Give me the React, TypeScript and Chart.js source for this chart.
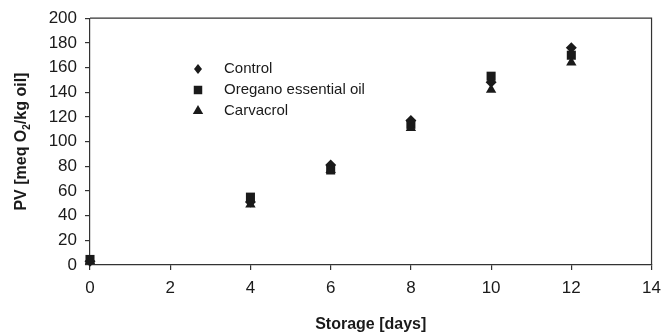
import React, { useEffect, useRef } from "react";
import { Chart, registerables } from "chart.js";

Chart.register(...registerables);

const days = [0, 4, 6, 8, 10, 12];
const control = [3, 51, 81, 117, 148, 176];
const oregano = [4.5, 55, 77, 114, 153, 170];
const carvacrol = [3, 49, 77, 111, 142, 164];
const seriesNames = ["Control", "Oregano essential oil", "Carvacrol"];
const xTicks = [0, 2, 4, 6, 8, 10, 12, 14];
const yTicks = [0, 20, 40, 60, 80, 100, 120, 140, 160, 180, 200];

const FONT = "'Liberation Sans', Arial, sans-serif";
const INK = "#1a1a1a";
const AXIS = "#333333";

function drawMarker(ctx: CanvasRenderingContext2D, style: string, r: number, x: number, y: number) {
  ctx.beginPath();
  if (style === "rect") {
    const s = r * Math.SQRT1_2;
    ctx.rect(x - s, y - s, 2 * s, 2 * s);
  } else if (style === "rectRot") {
    ctx.moveTo(x, y - r);
    ctx.lineTo(x + r * 0.8, y);
    ctx.lineTo(x, y + r);
    ctx.lineTo(x - r * 0.8, y);
    ctx.closePath();
  } else {
    ctx.moveTo(x, y - r);
    ctx.lineTo(x + r * 0.866, y + r * 0.5);
    ctx.lineTo(x - r * 0.866, y + r * 0.5);
    ctx.closePath();
  }
  ctx.fill();
}

const framePlugin = {
  id: "frame",
  afterDraw(chart: any) {
    const { ctx, chartArea } = chart;
    ctx.save();
    ctx.strokeStyle = AXIS;
    ctx.lineWidth = 1.2;
    ctx.beginPath();
    ctx.moveTo(chartArea.left, chartArea.top);
    ctx.lineTo(chartArea.right, chartArea.top);
    ctx.lineTo(chartArea.right, chartArea.bottom);
    ctx.stroke();

    // y-axis title with subscript
    const cx = 22;
    const cy = (chartArea.top + chartArea.bottom) / 2;
    ctx.translate(cx, cy);
    ctx.rotate(-Math.PI / 2);
    ctx.fillStyle = INK;
    ctx.textBaseline = "middle";
    const big = `bold 16px ${FONT}`;
    const small = `bold 10px ${FONT}`;
    const p1 = "PV [meq O";
    const p2 = "2";
    const p3 = "/kg oil]";
    ctx.font = big;
    const w1 = ctx.measureText(p1).width;
    const w3 = ctx.measureText(p3).width;
    ctx.font = small;
    const w2 = ctx.measureText(p2).width;
    const total = w1 + w2 + w3;
    let x = -total / 2;
    ctx.textAlign = "left";
    ctx.font = big;
    ctx.fillText(p1, x, 0);
    x += w1;
    ctx.font = small;
    ctx.fillText(p2, x, 5);
    x += w2;
    ctx.font = big;
    ctx.fillText(p3, x, 0);
    ctx.restore();

    // legend
    ctx.save();
    ctx.font = `15px ${FONT}`;
    ctx.fillStyle = INK;
    ctx.textBaseline = "middle";
    ctx.textAlign = "left";
    const ys = [69, 90, 111];
    const styles = ["rectRot", "rect", "triangle"];
    const radii = [5, 6, 6];
    seriesNames.forEach((name, i) => {
      ctx.fillStyle = INK;
      drawMarker(ctx, styles[i], radii[i], 198, ys[i]);
      ctx.fillText(name, 224, ys[i]);
    });
    ctx.restore();
  },
};

export default function App() {
  const ref = useRef<HTMLCanvasElement>(null);
  useEffect(() => {
    if (!ref.current) return;
    const mk = (arr: number[]) => days.map((d, i) => ({ x: d, y: arr[i] }));
    const chart = new Chart(ref.current, {
      type: "scatter",
      data: {
        datasets: [
          { label: seriesNames[0], data: mk(control), pointStyle: "rectRot", pointRadius: 5.5, backgroundColor: INK, borderColor: INK, borderWidth: 0, order: 3, clip: false },
          { label: seriesNames[1], data: mk(oregano), pointStyle: "rect", pointRadius: 6.4, backgroundColor: INK, borderColor: INK, borderWidth: 0, order: 2, clip: false },
          { label: seriesNames[2], data: mk(carvacrol), pointStyle: "triangle", pointRadius: 6, backgroundColor: INK, borderColor: INK, borderWidth: 0, order: 1, clip: false },
        ],
      },
      options: {
        animation: false,
        responsive: false,
        maintainAspectRatio: false,
        layout: { padding: { top: 18, right: 14, left: 0, bottom: 0 } },
        plugins: { legend: { display: false }, tooltip: { enabled: false } },
        scales: {
          x: {
            type: "linear",
            min: 0,
            max: 14,
            afterBuildTicks: (s: any) => { s.ticks = xTicks.map((v) => ({ value: v })); },
            afterFit: (s: any) => { s.height = 70; },
            grid: { drawOnChartArea: false, drawTicks: true, tickLength: 5, color: AXIS, lineWidth: 1.2 },
            border: { display: true, color: AXIS, width: 1.2 },
            ticks: { color: INK, font: { family: FONT, size: 17 }, padding: 8, maxRotation: 0 },
            title: { display: true, text: "Storage [days]", color: INK, font: { family: FONT, size: 16, weight: "bold" }, padding: { top: 0, bottom: 1 } },
          },
          y: {
            type: "linear",
            min: 0,
            max: 200,
            afterBuildTicks: (s: any) => { s.ticks = yTicks.map((v) => ({ value: v })); },
            afterFit: (s: any) => { s.width = 90; },
            grid: { drawOnChartArea: false, drawTicks: true, tickLength: 5, color: AXIS, lineWidth: 1.2 },
            border: { display: true, color: AXIS, width: 1.2 },
            ticks: { color: INK, font: { family: FONT, size: 17 }, padding: 8 },
          },
        },
      },
      plugins: [framePlugin],
    });
    return () => chart.destroy();
  }, []);
  return (
    <div style={{ position: "absolute", left: 0, top: 0, width: 669, height: 335, background: "#fff" }}>
      <canvas ref={ref} width={669} height={335} style={{ display: "block" }} />
    </div>
  );
}
